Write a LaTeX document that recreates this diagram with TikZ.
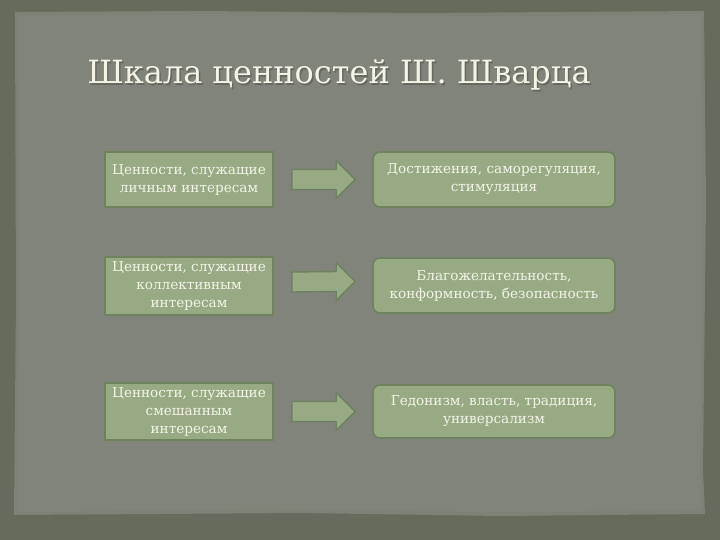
\documentclass[tikz,border=0pt]{standalone}
\usepackage{fontspec}
\setmainfont{DejaVu Serif}
\newfontfamily\titlefont{DejaVu Serif}
\usetikzlibrary{calc}
\definecolor{outerbg}{RGB}{102,108,92}
\definecolor{panelbg}{RGB}{129,132,122}
\definecolor{boxfill}{RGB}{152,170,132}
\definecolor{boxline}{RGB}{110,130,94}
\definecolor{txt}{RGB}{243,243,230}
\tikzset{
  leftbox/.style={draw=boxline, line width=1.6pt, fill=boxfill, text=txt,
    minimum width=168pt, align=center, inner sep=2pt,
    font=\fontsize{13.6}{18}\selectfont},
  rightbox/.style={draw=boxline, line width=1.6pt, fill=boxfill, text=txt,
    rounded corners=7pt, minimum width=242pt, align=center, inner sep=2pt,
    font=\fontsize{13.6}{18}\selectfont},
  blockarrow/.style={draw=boxline, line width=1.4pt, fill=boxfill, line join=round}
}
\newcommand\blkarrow[3]{%
  \draw[blockarrow] ($(#1.east)+(18,#3-10)$) -- ($(#2.west)+(-36,#3-10)$)
    -- ($(#2.west)+(-36,#3-19)$) -- ($(#2.west)+(-17,#3)$)
    -- ($(#2.west)+(-36,#3+19)$) -- ($(#2.west)+(-36,#3+10)$)
    -- ($(#1.east)+(18,#3+10)$) -- cycle;}
\begin{document}
\begin{tikzpicture}[x=1pt,y=-1pt]
\useasboundingbox (0,0) rectangle (720,540);
\fill[outerbg] (0,0) rectangle (720,540);
% panel with slightly rough edges
\fill[panelbg!85!outerbg] (15,12) -- (200,11) -- (420,13) -- (704,11) -- (706,200) -- (703,470) -- (705,514) -- (500,516) -- (300,513) -- (14,515) -- (16,300) -- cycle;
\fill[panelbg] (18,15) -- (250,14) -- (480,16) -- (701,14) -- (703,250) -- (700,470) -- (701,510) -- (520,512) -- (260,509) -- (17,512) -- (19,280) -- cycle;
% title
\node[text=black!70, opacity=0.5, font=\titlefont\fontsize{32}{38}\selectfont] at (340.5,76.5) {Шкала ценностей Ш. Шварца};
\node[text=txt, font=\titlefont\fontsize{32}{38}\selectfont] (title) at (339,75) {Шкала ценностей Ш. Шварца};
% left boxes
\node[leftbox, minimum height=55pt] (l1) at (189,179.5) {Ценности, служащие\\личным интересам};
\node[leftbox, minimum height=58pt] (l2) at (189,286) {Ценности, служащие\\коллективным\\интересам};
\node[leftbox, minimum height=57pt] (l3) at (189,411.5) {Ценности, служащие\\смешанным\\интересам};
% right boxes
\node[rightbox, minimum height=55pt] (r1) at (494,179.5) {Достижения, саморегуляция,\\стимуляция};
\node[rightbox, minimum height=55pt] (r2) at (494,285.5) {Благожелательность,\\конформность, безопасность};
\node[rightbox, minimum height=53pt] (r3) at (494,411.5) {Гедонизм, власть, традиция,\\универсализм};
% arrows
\blkarrow{l1}{r1}{0}
\blkarrow{l2}{r2}{-4}
\blkarrow{l3}{r3}{0}
\end{tikzpicture}
\end{document}
